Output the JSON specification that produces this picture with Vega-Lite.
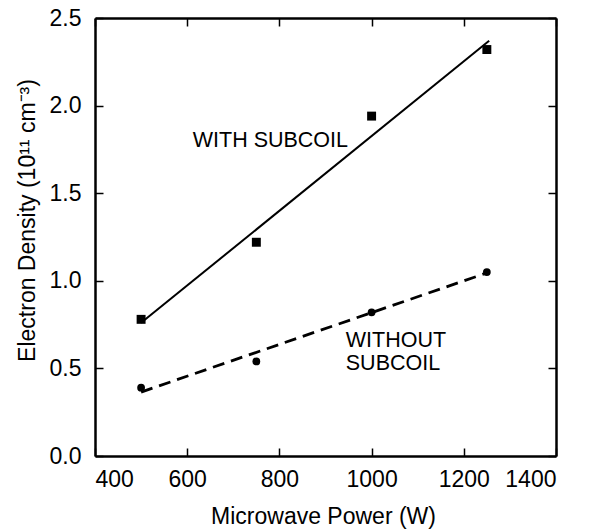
{
  "$schema": "https://vega.github.io/schema/vega-lite/v6.json",
  "autosize": {"type": "none"},
  "width": 461,
  "height": 438,
  "padding": {"left": 95, "top": 18, "right": 33, "bottom": 73},
  "background": "white",
  "config": {
    "view": {"stroke": null},
    "font": "Liberation Sans",
    "axis": {
      "domainColor": "black",
      "domainWidth": 2.5,
      "tickColor": "black",
      "tickWidth": 1.5,
      "tickSize": -8,
      "grid": false,
      "labelFont": "Liberation Sans",
      "labelFontSize": 23,
      "labelColor": "black",
      "titleFont": "Liberation Sans",
      "titleFontSize": 23,
      "titleFontWeight": "normal",
      "titleColor": "black"
    }
  },
  "datasets": {
    "measured": [
      {"power": 500, "density": 0.78, "series": "with"},
      {"power": 750, "density": 1.22, "series": "with"},
      {"power": 1000, "density": 1.94, "series": "with"},
      {"power": 1250, "density": 2.32, "series": "with"},
      {"power": 500, "density": 0.39, "series": "without"},
      {"power": 750, "density": 0.54, "series": "without"},
      {"power": 1000, "density": 0.82, "series": "without"},
      {"power": 1250, "density": 1.05, "series": "without"}
    ],
    "fits": [
      {"power": 500, "density": 0.76, "series": "with"},
      {"power": 1255, "density": 2.37, "series": "with"},
      {"power": 500, "density": 0.365, "series": "without"},
      {"power": 1250, "density": 1.045, "series": "without"}
    ],
    "labels": [
      {"power": 612, "density": 1.8, "text": "WITH SUBCOIL"},
      {"power": 944, "density": 0.656, "text": "WITHOUT"},
      {"power": 944, "density": 0.525, "text": "SUBCOIL"}
    ]
  },
  "resolve": {"axis": {"x": "independent", "y": "independent"}},
  "layer": [
    {
      "data": {"name": "measured"},
      "transform": [{"filter": "datum.series === 'with'"}],
      "mark": {"type": "point", "shape": "square", "filled": true, "color": "black", "opacity": 1, "size": 80},
      "encoding": {
        "x": {
          "field": "power", "type": "quantitative",
          "scale": {"domain": [400, 1400], "nice": false, "zero": false},
          "axis": {
            "orient": "bottom",
            "values": [400, 600, 800, 1000, 1200, 1400],
            "format": "d",
            "labelPadding": 20,
            "title": "Microwave Power (W)",
            "titleX": 228,
            "titleY": 67,
            "titleBaseline": "alphabetic",
            "titleAnchor": null
          }
        },
        "y": {
          "field": "density", "type": "quantitative",
          "scale": {"domain": [0, 2.5], "nice": false},
          "axis": {
            "orient": "left",
            "values": [0, 0.5, 1, 1.5, 2, 2.5],
            "format": ".1f",
            "labelPadding": 22,
            "title": "Electron Density (10¹¹ cm⁻³)",
            "titleX": -68,
            "titleY": 202,
            "titleAngle": -90,
            "titleAlign": "center",
            "titleBaseline": "middle",
            "titleAnchor": null
          }
        }
      }
    },
    {
      "data": {"name": "measured"},
      "transform": [{"filter": "datum.series === 'without'"}],
      "mark": {"type": "point", "shape": "circle", "filled": true, "color": "black", "opacity": 1, "size": 60},
      "encoding": {
        "x": {"field": "power", "type": "quantitative", "axis": null},
        "y": {"field": "density", "type": "quantitative", "axis": null}
      }
    },
    {
      "data": {"name": "fits"},
      "transform": [{"filter": "datum.series === 'with'"}],
      "mark": {"type": "line", "color": "black", "strokeWidth": 2},
      "encoding": {
        "x": {
          "field": "power", "type": "quantitative",
          "axis": {
            "orient": "top",
            "values": [400, 600, 800, 1000, 1200, 1400],
            "labels": false,
            "title": null
          }
        },
        "y": {
          "field": "density", "type": "quantitative",
          "axis": {
            "orient": "right",
            "values": [0, 0.5, 1, 1.5, 2, 2.5],
            "labels": false,
            "title": null
          }
        }
      }
    },
    {
      "data": {"name": "fits"},
      "transform": [{"filter": "datum.series === 'without'"}],
      "mark": {"type": "line", "color": "black", "strokeWidth": 2.8, "strokeDash": [12, 7]},
      "encoding": {
        "x": {"field": "power", "type": "quantitative", "axis": null},
        "y": {"field": "density", "type": "quantitative", "axis": null}
      }
    },
    {
      "data": {"name": "labels"},
      "mark": {"type": "text", "align": "left", "baseline": "middle", "font": "Liberation Sans", "fontSize": 21.5, "color": "black"},
      "encoding": {
        "x": {"field": "power", "type": "quantitative", "axis": null},
        "y": {"field": "density", "type": "quantitative", "axis": null},
        "text": {"field": "text"}
      }
    }
  ]
}
